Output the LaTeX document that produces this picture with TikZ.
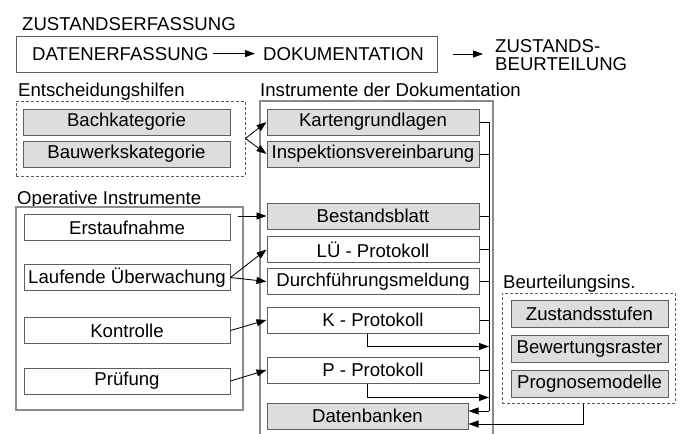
\documentclass[tikz,border=0pt]{standalone}
\usepackage{fontspec}
\setmainfont{Liberation Sans}
\usetikzlibrary{arrows.meta,positioning,calc}

\definecolor{boxfill}{RGB}{220,221,222}
\definecolor{boxline}{RGB}{95,95,95}
\definecolor{frameline}{RGB}{140,140,140}

\begin{document}
\begin{tikzpicture}[
        x=1pt, y=-1pt,
        font=\fontsize{18.6}{21}\selectfont,
        node distance=5pt,
        box/.style={draw=boxline, line width=1pt, minimum height=26pt, inner sep=0pt, align=center},
        greybox/.style={box, fill=boxfill},
        docbox/.style={box, minimum width=212pt},
        frame/.style={draw=frameline, line width=1.4pt},
        group/.style={draw=boxline, dash pattern=on 3pt off 2pt, line width=1pt, inner sep=0pt},
        label/.style={anchor=base west, inner sep=0pt},
        arrow/.style={draw, line width=0.85pt, -{Triangle[length=10pt,width=7pt]}},
        line/.style={draw, line width=0.85pt}
    ]
        \useasboundingbox (0,0) rectangle (686,434);

        % Header: Zustandserfassung
        \node[label] (erfassung) at (22,30) {ZUSTANDSERFASSUNG};
        \node[draw=boxline, line width=1pt, minimum width=421pt, minimum height=36pt] (erfbox) at (226.5,54) {};
        \node[label] (daten) at (32,60) {DATENERFASSUNG};
        \node[label] (doku) at (263,60) {DOKUMENTATION};
        \node[anchor=west, inner sep=0pt, align=left, font=\fontsize{18.6}{17.5}\selectfont] (beurteilung) at (495,55) {ZUSTANDS-\\BEURTEILUNG};

        % Entscheidungshilfen
        \node[label] (entlabel) at (18,96) {Entscheidungshilfen};
        \node[group, minimum width=229pt, minimum height=75pt] (ent) at (130.5,138.5) {};
        \node[greybox, minimum width=207pt] (bach) at (126.5,122) {Bachkategorie};
        \node[greybox, minimum width=207pt, below=of bach] (bauwerk) {Bauwerkskategorie};

        % Operative Instrumente
        \node[label] (oplabel) at (17,204) {Operative Instrumente};
        \node[frame, minimum width=227pt, minimum height=203pt] (op) at (129.5,308.5) {};
        \node[box, minimum width=206pt] (erst) at (127,227.5) {Erstaufnahme};
        \node[box, minimum width=206pt] (lauf) at (127,277.5) {Laufende Überwachung};
        \node[box, minimum width=206pt] (kontrolle) at (127,330.5) {Kontrolle};
        \node[box, minimum width=206pt] (pruefung) at (127,381) {Prüfung};

        % Instrumente der Dokumentation
        \node[label] (doclabel) at (260,96) {Instrumente der Dokumentation};
        \draw[frame] (260,434) -- (260,101) -- (493,101) -- (493,434);
        \node[docbox, fill=boxfill] (karten) at (373,122) {Kartengrundlagen};
        \node[docbox, fill=boxfill, below=of karten] (inspekt) {Inspektionsvereinbarung};
        \node[docbox, fill=boxfill] (bestand) at (373,216) {Bestandsblatt};
        \node[docbox] (lue) at (373,249.5) {LÜ - Protokoll};
        \node[docbox, below=of lue] (durch) {Durchführungsmeldung};
        \node[docbox] (kprot) at (373,320) {K - Protokoll};
        \node[docbox] (pprot) at (373,370) {P - Protokoll};
        \node[greybox, minimum width=201pt] (dbank) at (367.5,416) {Datenbanken};

        % Beurteilungsinstrumente
        \node[label] (beulabel) at (503,288) {Beurteilungsins.};
        \node[group, minimum width=173pt, minimum height=110pt] (beurt) at (588.5,348) {};
        \node[greybox, minimum width=157pt, minimum height=27pt] (stufen) at (589.5,314) {Zustandsstufen};
        \node[greybox, minimum width=157pt, minimum height=27pt, below=7pt of stufen] (raster) {Bewertungsraster};
        \node[greybox, minimum width=157pt, minimum height=27pt, below=7pt of raster] (prognose) {Prognosemodelle};

        % Arrows
        \draw[arrow] ([xshift=4pt]daten.east) -- ([xshift=-8pt]doku.west);
        \draw[arrow] ([xshift=15pt]erfbox.east) -- ([xshift=-12pt]beurteilung.west |- erfbox.east);

        \draw[arrow] (ent.east) -- (karten.west);
        \draw[arrow] (ent.east) -- (inspekt.west);
        \draw[arrow] ([xshift=7pt]erst.east |- bestand.west) -- (bestand.west);
        \draw[arrow] (lauf.east) -- (lue.west);
        \draw[arrow] (lauf.east) -- (durch.west);
        \draw[arrow] (kontrolle.east) -- (kprot.west);
        \draw[arrow] (pruefung.east) -- (pprot.west);

        % Sammelleitung zu Datenbanken
        \coordinate (bus) at (489,122);
        \coordinate (busend) at ([yshift=5pt]dbank.east -| bus);
        \draw[line] (karten.east) -- (bus) -- (busend);
        \foreach \n in {inspekt,bestand,lue,durch,kprot,pprot}
            \draw[line] (\n.east) -- (\n.east -| bus);
        \draw[arrow] (busend) -- (busend -| dbank.east);

        \draw[arrow] ([xshift=-6pt]kprot.south) |- ([yshift=-13pt]kprot.south -| bus);
        \draw[arrow] ([xshift=-6pt]pprot.south) |- ([yshift=-14pt]pprot.south -| bus);
        \draw[arrow] ([xshift=-5pt]beurt.south) |- ([yshift=-8pt]dbank.east);
    \end{tikzpicture}
\end{document}
